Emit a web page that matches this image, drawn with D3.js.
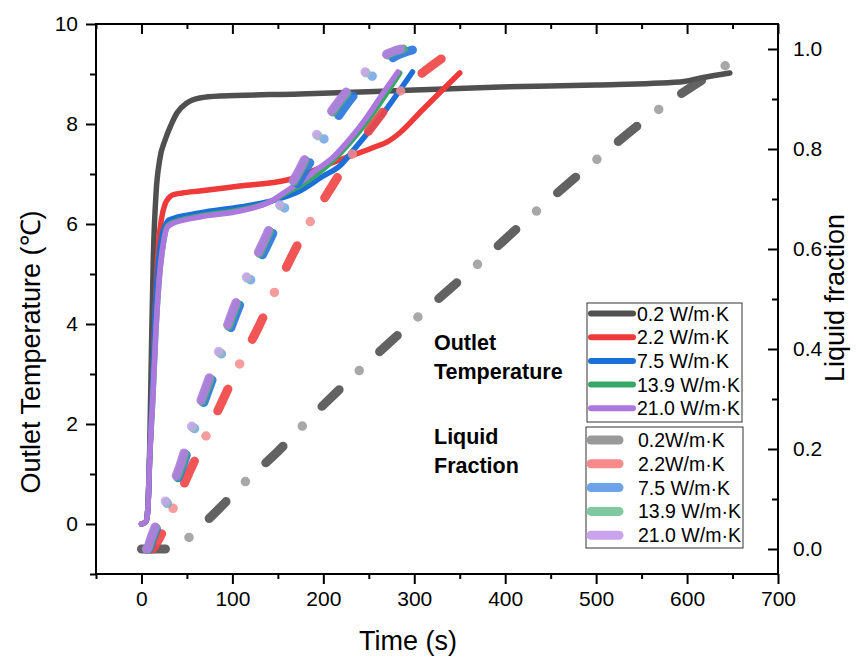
<!DOCTYPE html>
<html>
<head>
<meta charset="utf-8">
<script src="https://cdn.jsdelivr.net/npm/d3@7"></script>
<style>
  body { margin: 0; background: #fff; }
  svg text { font-family: "Liberation Sans", Arial, sans-serif; fill: #000; }
</style>
</head>
<body>
<svg id="chart" width="858" height="659"></svg>
<script>
// ---- data ----
const conductivities = ['0.2', '2.2', '7.5', '13.9', '21.0'];
const outletLabels = ['0.2 W/m·K', '2.2 W/m·K', '7.5 W/m·K', '13.9 W/m·K', '21.0 W/m·K'];
const fractionLabels = ['0.2W/m·K', '2.2W/m·K', '7.5 W/m·K', '13.9 W/m·K', '21.0 W/m·K'];

// outlet temperature (left axis, °C)
const outT02 = [0, 5, 7, 9, 11, 13, 16, 20, 26, 33, 39, 50, 64, 87, 174, 300, 395, 500, 592, 615, 647];
const outV02 = [0, 0.05, 0.3, 1.5, 3.5, 5.3, 6.6, 7.28, 7.68, 8.0, 8.22, 8.42, 8.52, 8.56, 8.6, 8.68, 8.74, 8.78, 8.84, 8.92, 9.02];
const outT22 = [0, 5, 7, 9, 12, 15, 18, 22, 26, 30, 34, 45, 64, 108, 160, 215, 255, 272, 284, 310, 336, 350];
const outV22 = [0, 0.05, 0.3, 1.3, 2.6, 4.2, 5.4, 6.1, 6.4, 6.52, 6.58, 6.62, 6.66, 6.76, 6.88, 7.26, 7.53, 7.66, 7.82, 8.3, 8.77, 9.02];
const outT75 = [0, 5, 7, 9, 12, 15, 19, 23, 27, 30, 64, 108, 138, 174, 200, 218, 235, 262, 298];
const outV75 = [0, 0.05, 0.3, 1.3, 2.6, 4.2, 5.3, 5.8, 6.0, 6.08, 6.22, 6.34, 6.44, 6.66, 6.96, 7.16, 7.52, 8.12, 9.04];
const outT139 = [0, 5, 7, 9, 12.5, 16, 20, 24, 28, 33, 64, 108, 141, 163, 174, 211, 248, 284];
const outV139 = [0, 0.05, 0.3, 1.3, 2.5, 3.9, 5.0, 5.6, 5.95, 6.02, 6.16, 6.28, 6.44, 6.66, 6.76, 7.28, 8.05, 9.02];
const outT210 = [0, 5, 7, 9, 12.5, 16, 20, 24, 28, 33, 64, 108, 141, 163, 174, 190, 211, 230, 248, 265, 282];
const outV210 = [0, 0.05, 0.3, 1.3, 2.5, 3.9, 5.0, 5.6, 5.92, 6.0, 6.14, 6.26, 6.44, 6.7, 6.82, 7.05, 7.34, 7.72, 8.14, 8.6, 9.04];

// liquid fraction (right axis)
const lfT02 = [0, 36, 54, 85, 116, 150, 178, 239, 304, 370, 432, 500, 568, 645];
const lfF02 = [0, 0, 0.026, 0.08, 0.138, 0.195, 0.248, 0.356, 0.464, 0.57, 0.672, 0.778, 0.878, 0.97];
const lfT22 = [0, 12, 16, 35, 53, 72, 90, 109, 129, 147, 166, 186, 209, 232, 259, 284, 306, 331];
const lfF22 = [0, 0, 0.01, 0.082, 0.155, 0.23, 0.3, 0.374, 0.445, 0.516, 0.588, 0.656, 0.724, 0.79, 0.858, 0.914, 0.948, 0.982];
const lfT75 = [0, 8, 12, 29, 46, 59, 74, 89, 104, 122, 141, 159, 181, 202, 228, 255, 278, 298];
const lfF75 = [0, 0, 0.02, 0.094, 0.17, 0.244, 0.32, 0.396, 0.47, 0.546, 0.618, 0.688, 0.76, 0.824, 0.895, 0.948, 0.984, 0.998];
const lfT139 = [0, 7, 11, 27.5, 44.5, 56.5, 71.5, 86.5, 100.5, 117.5, 136.5, 153.5, 175.5, 195, 220, 248, 272, 288];
const lfF139 = [0, 0, 0.02, 0.094, 0.17, 0.244, 0.32, 0.396, 0.47, 0.546, 0.618, 0.688, 0.76, 0.83, 0.898, 0.954, 0.99, 1.0];
const lfT210 = [0, 6, 10, 26, 43, 55, 70, 85, 99, 116, 135, 152, 174, 193, 218, 246, 270, 285];
const lfF210 = [0, 0, 0.02, 0.094, 0.17, 0.244, 0.32, 0.396, 0.47, 0.546, 0.618, 0.688, 0.76, 0.83, 0.898, 0.954, 0.99, 1.0];

const xTicks = [0, 100, 200, 300, 400, 500, 600, 700];
const yLeftTicks = [0, 2, 4, 6, 8, 10];
const yRightTicks = [0, 0.2, 0.4, 0.6, 0.8, 1.0];

const outletColors = ['#505050', '#ef3a3a', '#1c6fd9', '#36a866', '#ad78de'];
const dashColors = ['#555555', '#f04646', '#2a76dc', '#44ae70', '#b27ee0'];
const dotColors = ['#999999', '#f58b8b', '#6ea3ea', '#80c8a0', '#c9a4ec'];
// pattern phase shift (px along the path) per series
const dashShift = [0, 5, 5, 5, 5];

const outletSeries = [[outT02, outV02], [outT22, outV22], [outT75, outV75], [outT139, outV139], [outT210, outV210]];
const fractionSeries = [[lfT02, lfF02], [lfT22, lfF22], [lfT75, lfF75], [lfT139, lfF139], [lfT210, lfF210]];

// ---- layout ----
const svg = d3.select('#chart');
const plot = { left: 96, right: 778, top: 24, bottom: 574 };

const x = d3.scaleLinear().domain([-50, 700]).range([plot.left, plot.right]);
const yL = d3.scaleLinear().domain([-1, 10]).range([plot.bottom, plot.top]);
const yR = d3.scaleLinear().domain([-0.05, 1.05]).range([plot.bottom, plot.top]);

const zip = (a, b) => a.map((t, i) => ({ t: t, v: b[i] }));

// ---- axes ----
function styleAxis(g) {
    g.select('.domain').remove();
    g.selectAll('.tick line').attr('stroke', '#000').attr('stroke-width', 2);
    g.selectAll('.tick text').attr('font-size', 21).attr('font-family', '"Liberation Sans", Arial, sans-serif');
}

svg.append('g').attr('transform', `translate(0,${plot.bottom})`)
    .call(d3.axisBottom(x).tickValues(xTicks).tickSize(10).tickPadding(7).tickFormat(d3.format('d')))
    .call(styleAxis);
svg.append('g').attr('transform', `translate(0,${plot.bottom})`)
    .call(d3.axisBottom(x).tickValues(d3.range(-50, 700, 100)).tickSize(5).tickFormat(''))
    .call(styleAxis);
svg.append('g').attr('transform', `translate(0,${plot.top})`)
    .call(d3.axisTop(x).tickValues(xTicks).tickSize(-10).tickFormat(''))
    .call(styleAxis);
svg.append('g').attr('transform', `translate(0,${plot.top})`)
    .call(d3.axisTop(x).tickValues(d3.range(-50, 700, 100)).tickSize(-5).tickFormat(''))
    .call(styleAxis);

svg.append('g').attr('transform', `translate(${plot.left},0)`)
    .call(d3.axisLeft(yL).tickValues(yLeftTicks).tickSize(10).tickPadding(8).tickFormat(d3.format('d')))
    .call(styleAxis);
svg.append('g').attr('transform', `translate(${plot.left},0)`)
    .call(d3.axisLeft(yL).tickValues([-1, 1, 3, 5, 7, 9]).tickSize(6).tickFormat(''))
    .call(styleAxis);

svg.append('g').attr('transform', `translate(${plot.right},0)`)
    .call(d3.axisRight(yR).tickValues(yRightTicks).tickSizeInner(-10).tickSizeOuter(0).tickPadding(15).tickFormat(d3.format('.1f')))
    .call(styleAxis);
svg.append('g').attr('transform', `translate(${plot.right},0)`)
    .call(d3.axisRight(yR).tickValues([0.1, 0.3, 0.5, 0.7, 0.9]).tickSizeInner(-6).tickSizeOuter(0).tickFormat(''))
    .call(styleAxis);

svg.append('rect')
    .attr('x', plot.left).attr('y', plot.top)
    .attr('width', plot.right - plot.left).attr('height', plot.bottom - plot.top)
    .attr('fill', 'none').attr('stroke', '#000').attr('stroke-width', 2);

// ---- axis titles ----
svg.append('text').attr('x', 408).attr('y', 650).attr('text-anchor', 'middle')
    .attr('font-size', 27).text('Time (s)');
svg.append('text').attr('transform', 'translate(40,352) rotate(-90)').attr('text-anchor', 'middle')
    .attr('font-size', 27).text('Outlet Temperature (℃)');
svg.append('text').attr('transform', 'translate(844,298) rotate(-90)').attr('text-anchor', 'middle')
    .attr('font-size', 27).text('Liquid fraction');

// ---- outlet temperature lines ----
const lineL = d3.line().x(d => x(d.t)).y(d => yL(d.v)).curve(d3.curveMonotoneX);
const lineR = d3.line().x(d => x(d.t)).y(d => yR(d.v)).curve(d3.curveMonotoneX);

outletSeries.forEach((s, i) => {
    svg.append('path')
        .datum(zip(s[0], s[1]))
        .attr('d', lineL)
        .attr('fill', 'none')
        .attr('stroke', outletColors[i])
        .attr('stroke-width', 5.5)
        .attr('stroke-linejoin', 'round')
        .attr('stroke-linecap', 'round');
});

// ---- liquid fraction dash-dot lines ----
const period = 79.5, dashLen = 24;
fractionSeries.forEach((s, i) => {
    const data = zip(s[0], s[1]);
    svg.append('path')
        .datum(data)
        .attr('d', lineR)
        .attr('fill', 'none')
        .attr('stroke', dashColors[i])
        .attr('stroke-opacity', 0.92)
        .attr('stroke-width', 9)
        .attr('stroke-linecap', 'round')
        .attr('stroke-dasharray', `${dashLen} ${period - dashLen}`)
        .attr('stroke-dashoffset', -dashShift[i]);
    svg.append('path')
        .datum(data)
        .attr('d', lineR)
        .attr('fill', 'none')
        .attr('stroke', dotColors[i])
        .attr('stroke-opacity', 0.85)
        .attr('stroke-width', 9.5)
        .attr('stroke-linecap', 'round')
        .attr('stroke-dasharray', `0 ${period}`)
        .attr('stroke-dashoffset', period - (dashLen + (period - dashLen) / 2) - dashShift[i]);
});

// ---- legends ----
const legendOut = svg.append('g').attr('transform', 'translate(587,303)');
legendOut.append('rect').attr('width', 155).attr('height', 119)
    .attr('fill', '#fff').attr('stroke', '#333').attr('stroke-width', 1);
outletLabels.forEach((lab, i) => {
    const cy = 10.5 + i * 23.7;
    legendOut.append('line').attr('x1', 4).attr('x2', 46).attr('y1', cy).attr('y2', cy)
        .attr('stroke', outletColors[i]).attr('stroke-width', 6).attr('stroke-linecap', 'round');
    legendOut.append('text').attr('x', 50).attr('y', cy + 7).attr('font-size', 19.5).text(lab);
});

const legendLf = svg.append('g').attr('transform', 'translate(586,427)');
legendLf.append('rect').attr('width', 157).attr('height', 121)
    .attr('fill', '#fff').attr('stroke', '#333').attr('stroke-width', 1);
fractionLabels.forEach((lab, i) => {
    const cy = 13 + i * 23.8;
    legendLf.append('line').attr('x1', 5).attr('x2', 33).attr('y1', cy).attr('y2', cy)
        .attr('stroke', dotColors[i]).attr('stroke-width', 9).attr('stroke-linecap', 'round');
    legendLf.append('text').attr('x', 52).attr('y', cy + 7).attr('font-size', 19.5).text(lab);
});

const groupLabels = [['Outlet', 350], ['Temperature', 379], ['Liquid', 444], ['Fraction', 473]];
groupLabels.forEach(d => {
    svg.append('text').attr('x', 434).attr('y', d[1]).attr('font-size', 21.5)
        .attr('font-weight', 'bold').text(d[0]);
});
</script>
</body>
</html>
